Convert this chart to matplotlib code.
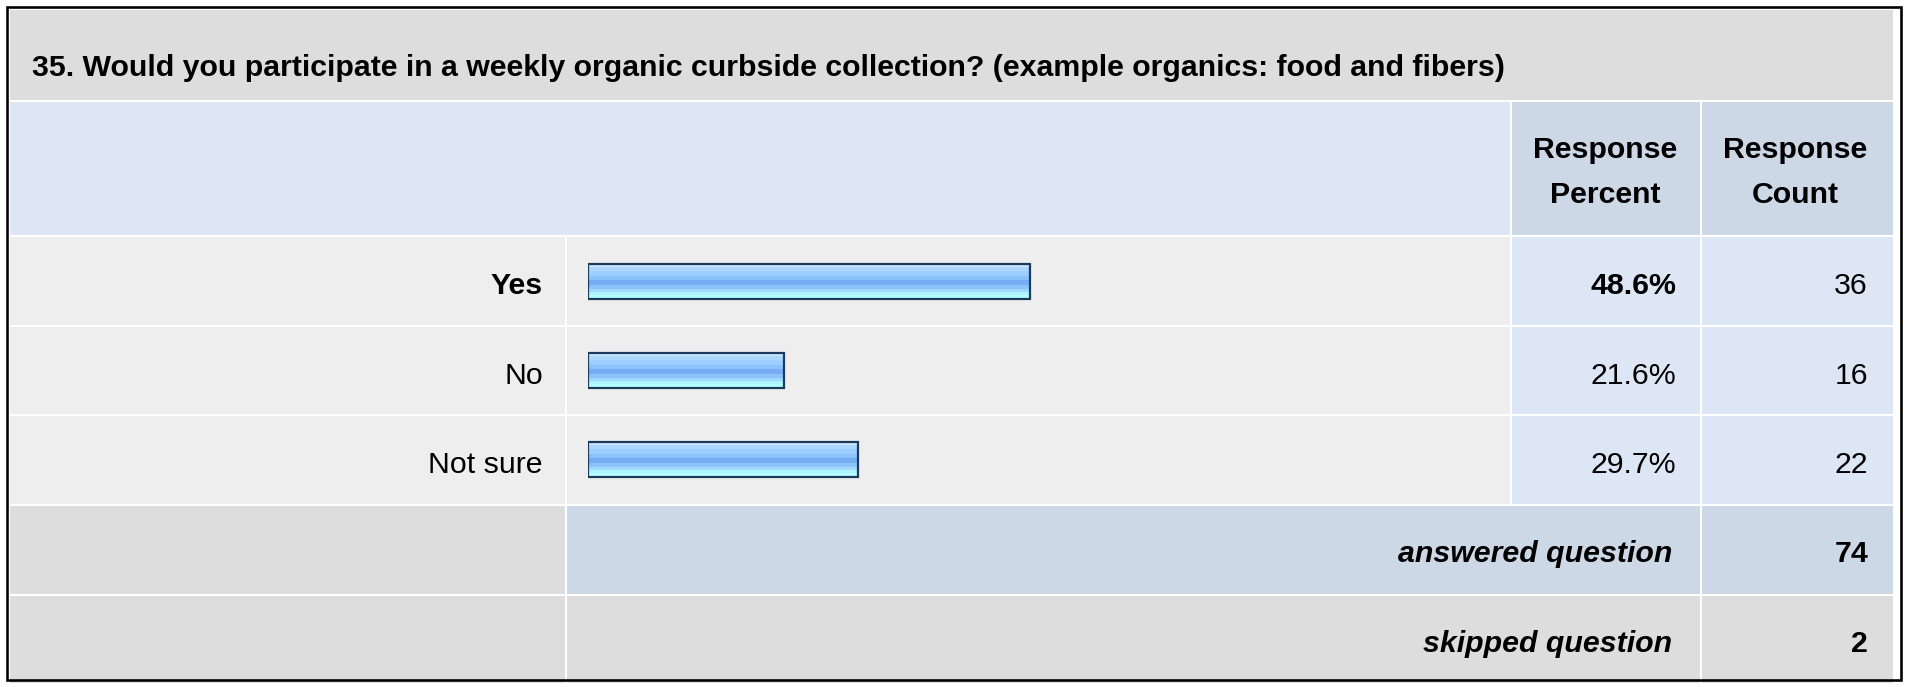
import matplotlib
matplotlib.use("Agg")
import matplotlib.pyplot as plt
from matplotlib.patches import Rectangle

plt.rcParams['font.family'] = ['Liberation Sans', 'DejaVu Sans']

# ---- survey data ----
question = ("35. Would you participate in a weekly organic curbside collection? "
            "(example organics: food and fibers)")
options = ["Yes", "No", "Not sure"]
percents = [48.6, 21.6, 29.7]
counts = [36, 16, 22]
answered = 74
skipped = 2
header_percent = ["Response", "Percent"]
header_count = ["Response", "Count"]

# ---- layout (pixels) ----
W, H = 1907, 687
FS = 21.8  # points at 100 dpi

col_label = (10, 565)
col_bar = (567, 1510)
col_pct = (1512, 1699.5)
col_cnt = (1701.5, 1893)
row_title = (10, 99.5)
row_head = (101.5, 235)
rows_data = [(237, 325), (327, 414), (416, 504)]
row_ans = (506, 593.5)
row_skip = (595.5, 683)

GRAY = "#DDDDDD"
LIGHT = "#EEEEEE"
BLUE = "#DCE6F4"
BLUE2 = "#CCD8E6"

fig = plt.figure(figsize=(W / 100, H / 100), dpi=100)
fig.patch.set_facecolor("white")
ax = fig.add_axes([0, 0, 1, 1])
ax.set_xlim(0, W)
ax.set_ylim(H, 0)
ax.axis("off")


def cell(cols, rows, color):
    ax.add_patch(Rectangle((cols[0], rows[0]), cols[1] - cols[0], rows[1] - rows[0],
                           facecolor=color, edgecolor="none", zorder=1))


# title row
cell((col_label[0], col_cnt[1]), row_title, GRAY)
ax.text(32, 76, question, fontsize=FS, fontweight="bold", va="baseline", ha="left",
        color="#000000", zorder=3)

# header row
cell((col_label[0], col_bar[1]), row_head, BLUE)
cell(col_pct, row_head, BLUE2)
cell(col_cnt, row_head, BLUE2)
for lines, xc in ((header_percent, 1605), (header_count, 1795)):
    ax.text(xc, 158, lines[0], fontsize=FS, fontweight="bold", ha="center", va="baseline", zorder=3)
    ax.text(xc, 203, lines[1], fontsize=FS, fontweight="bold", ha="center", va="baseline", zorder=3)

# data rows
top = max(percents)
for (r0, r1), opt, p, c in zip(rows_data, options, percents, counts):
    cell(col_label, (r0, r1), LIGHT)
    cell(col_bar, (r0, r1), LIGHT)
    cell(col_pct, (r0, r1), BLUE)
    cell(col_cnt, (r0, r1), BLUE)
    base = (r0 + r1) / 2 + 13
    w = "bold" if p == top else "normal"
    ax.text(543, base, opt, fontsize=FS, fontweight=w, ha="right", va="baseline", zorder=3)
    ax.text(1676, base, f"{p:.1f}%", fontsize=FS, fontweight=w, ha="right", va="baseline", zorder=3)
    ax.text(1868, base, f"{c}", fontsize=FS, ha="right", va="baseline", zorder=3)

# answered / skipped rows
cell(col_label, row_ans, GRAY)
cell((col_bar[0], col_pct[1]), row_ans, BLUE2)
cell(col_cnt, row_ans, BLUE2)
cell(col_label, row_skip, GRAY)
cell((col_bar[0], col_pct[1]), row_skip, GRAY)
cell(col_cnt, row_skip, GRAY)
ax.text(1672, 562, "answered question", fontsize=FS, fontweight="bold", fontstyle="italic",
        ha="right", va="baseline", zorder=3)
ax.text(1868, 562, f"{answered}", fontsize=FS, fontweight="bold", ha="right", va="baseline", zorder=3)
ax.text(1672, 652, "skipped question", fontsize=FS, fontweight="bold", fontstyle="italic",
        ha="right", va="baseline", zorder=3)
ax.text(1868, 652, f"{skipped}", fontsize=FS, fontweight="bold", ha="right", va="baseline", zorder=3)

# outer frame
ax.add_patch(Rectangle((6.5, 6.5), W - 13, H - 13.5, facecolor="none",
                       edgecolor="#000000", linewidth=2.6 * 0.72, zorder=4))

# ---- bar axes: 0-100 % across the bar column ----
bx0, bx1 = 588, 1497
by0, by1 = rows_data[0][0], rows_data[-1][1]
bax = fig.add_axes([bx0 / W, 1 - by1 / H, (bx1 - bx0) / W, (by1 - by0) / H])
bax.set_xlim(0, 100)
bax.set_ylim(len(options) - 0.5, -0.5)
bax.patch.set_alpha(0)
bax.axis("off")

ypos = list(range(len(options)))
bar_h = 35 / ((by1 - by0) / len(options))
# horizontal gradient bands, top to bottom
bands = ["#C8E4FF", "#ACD6FF", "#9CCEFF", "#8CC2FC", "#76ACF2",
         "#8CC4FA", "#A0D8FF", "#AEF4FF", "#B4FFFF"]
fracs = [0.08, 0.13, 0.14, 0.12, 0.13, 0.11, 0.10, 0.09, 0.10]
start = 0.0
for color, f in zip(bands, fracs):
    centers = [y - bar_h / 2 + (start + f / 2) * bar_h for y in ypos]
    bax.barh(centers, percents, height=f * bar_h * 1.02, left=0, color=color,
             edgecolor="none", zorder=2)
    start += f
bax.barh(ypos, percents, height=bar_h, left=0, fill=False,
         edgecolor="#1C3A5C", linewidth=2.2 * 0.72, zorder=3)

fig.savefig("out.png", dpi=100, facecolor="white")
